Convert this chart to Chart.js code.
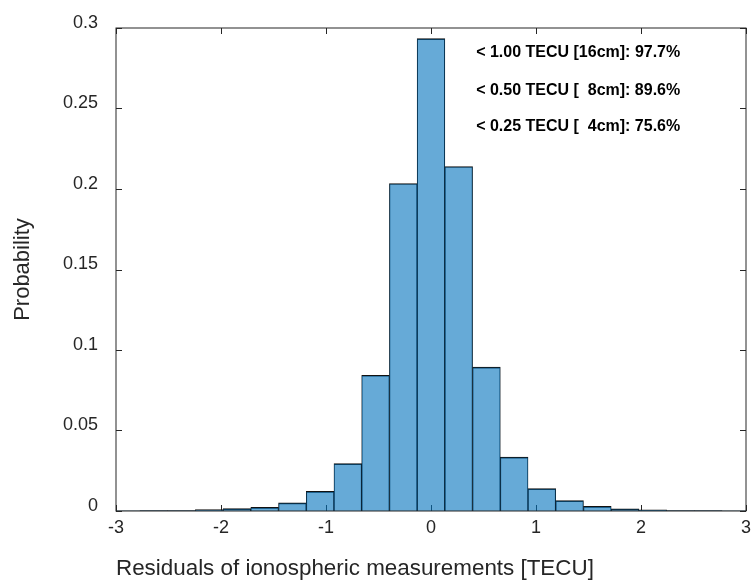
<!DOCTYPE html>
<html>
<head>
<meta charset="utf-8">
<script src="https://cdn.jsdelivr.net/npm/chart.js@4/dist/chart.umd.min.js"></script>
<style>
  html, body { margin: 0; padding: 0; background: #fff; }
  #wrap { width: 754px; height: 587px; }
</style>
</head>
<body>
<div id="wrap"><canvas id="hist" width="754" height="587"></canvas></div>
<script>
// histogram bin centres [TECU]
const binCenters = [-2.904, -2.640, -2.376, -2.112, -1.848, -1.584, -1.320, -1.056, -0.792, -0.528, -0.264,
  0, 0.264, 0.528, 0.792, 1.056, 1.320, 1.584, 1.848, 2.112, 2.376, 2.640, 2.904]
// probability of each bin
const probability = [0.0001, 0.0002, 0.0003, 0.0009, 0.0015, 0.0023, 0.0050, 0.0122, 0.0294, 0.0843, 0.2034,
  0.2934, 0.2140, 0.0894, 0.0335, 0.0139, 0.0064, 0.0029, 0.0013, 0.0007, 0.0003, 0.0002, 0.0001]

const xTicks = [-3, -2, -1, 0, 1, 2, 3]
const yTicks = [0, 0.05, 0.1, 0.15, 0.2, 0.25, 0.3]
const yTickLabels = ['0', '0.05', '0.1', '0.15', '0.2', '0.25', '0.3']

const xLabel = 'Residuals of ionospheric measurements [TECU]'
const yLabel = 'Probability'
const statLines = ['< 1.00 TECU [16cm]: 97.7%', '< 0.50 TECU [  8cm]: 89.6%', '< 0.25 TECU [  4cm]: 75.6%']

const FONT = 'Arial, "Liberation Sans", Helvetica, sans-serif'
const axisColor = '#262626'
const tickLen = 6

// where the stats text sits, in data units
const statX = 0.43
const statY = [0.2850, 0.2612, 0.2385]

/**
 * MATLAB-like axes: inward ticks on all four sides (under the bars)
 * and a closed box drawn on top.
 */
const axesBox = {
    id: 'axesBox',
    beforeDatasetsDraw (chart) {
        const {ctx, chartArea: a, scales: {x, y}} = chart
        ctx.save()
        ctx.strokeStyle = axisColor
        ctx.lineWidth = 1
        ctx.beginPath()
        xTicks.forEach(v => {
            const px = Math.round(x.getPixelForValue(v)) + 0.5
            ctx.moveTo(px, a.bottom); ctx.lineTo(px, a.bottom - tickLen)
            ctx.moveTo(px, a.top); ctx.lineTo(px, a.top + tickLen)
        })
        yTicks.forEach(v => {
            const py = Math.round(y.getPixelForValue(v)) + 0.5
            ctx.moveTo(a.left, py); ctx.lineTo(a.left + tickLen, py)
            ctx.moveTo(a.right, py); ctx.lineTo(a.right - tickLen, py)
        })
        ctx.stroke()
        ctx.restore()
    },
    afterDatasetsDraw (chart) {
        const {ctx, chartArea: a, scales: {x, y}} = chart
        ctx.save()
        ctx.strokeStyle = axisColor
        ctx.lineWidth = 1
        ctx.strokeRect(a.left, a.top, a.right - a.left, a.bottom - a.top)

        ctx.fillStyle = '#000'
        ctx.font = 'bold 16px ' + FONT
        ctx.textAlign = 'left'
        ctx.textBaseline = 'middle'
        statLines.forEach((t, i) => {
            ctx.fillText(t, x.getPixelForValue(statX), y.getPixelForValue(statY[i]))
        })
        ctx.restore()
    }
}

const data = {
    datasets: [{
        label: 'residuals',
        data: binCenters.map((c, i) => ({x: c, y: probability[i]})),
        backgroundColor: 'rgba(0, 114, 189, 0.6)',
        borderColor: '#111',
        borderWidth: {top: 1, left: 0.5, right: 0.5, bottom: 0},
        borderSkipped: 'start',
        barPercentage: 1,
        categoryPercentage: 1,
        clip: 0
    }]
}

new Chart(document.getElementById('hist'), {
    type: 'bar',
    data: data,
    plugins: [axesBox],
    options: {
        responsive: false,
        devicePixelRatio: 1,
        animation: false,
        layout: {padding: {top: 28, right: 8, left: 0, bottom: 0}},
        plugins: {legend: {display: false}, tooltip: {enabled: false}},
        scales: {
            x: {
                type: 'linear',
                min: -3,
                max: 3,
                offset: false,
                grid: {display: false, drawTicks: false},
                border: {display: false},
                afterBuildTicks: s => { s.ticks = xTicks.map(v => ({value: v})) },
                afterFit: s => { s.height = 76; s.paddingLeft = 0; s.paddingRight = 0 },
                ticks: {
                    padding: 6,
                    color: axisColor,
                    font: {family: FONT, size: 18},
                    maxRotation: 0,
                    autoSkip: false,
                    callback: v => String(v)
                },
                title: {
                    display: true,
                    text: xLabel,
                    align: 'start',
                    color: axisColor,
                    font: {family: FONT, size: 22.4},
                    padding: {top: 0, bottom: 5}
                }
            },
            y: {
                min: 0,
                max: 0.3,
                grid: {display: false, drawTicks: false},
                border: {display: false},
                afterBuildTicks: s => { s.ticks = yTicks.map(v => ({value: v})) },
                afterFit: s => { s.width = 116; s.paddingTop = 0; s.paddingBottom = 0 },
                ticks: {
                    padding: 18,
                    labelOffset: -5,
                    color: axisColor,
                    font: {family: FONT, size: 18},
                    autoSkip: false,
                    callback: (v, i) => yTickLabels[i]
                },
                title: {
                    display: true,
                    text: yLabel,
                    color: axisColor,
                    font: {family: FONT, size: 22},
                    padding: {top: 10, bottom: 0}
                }
            }
        }
    }
})
</script>
</body>
</html>
